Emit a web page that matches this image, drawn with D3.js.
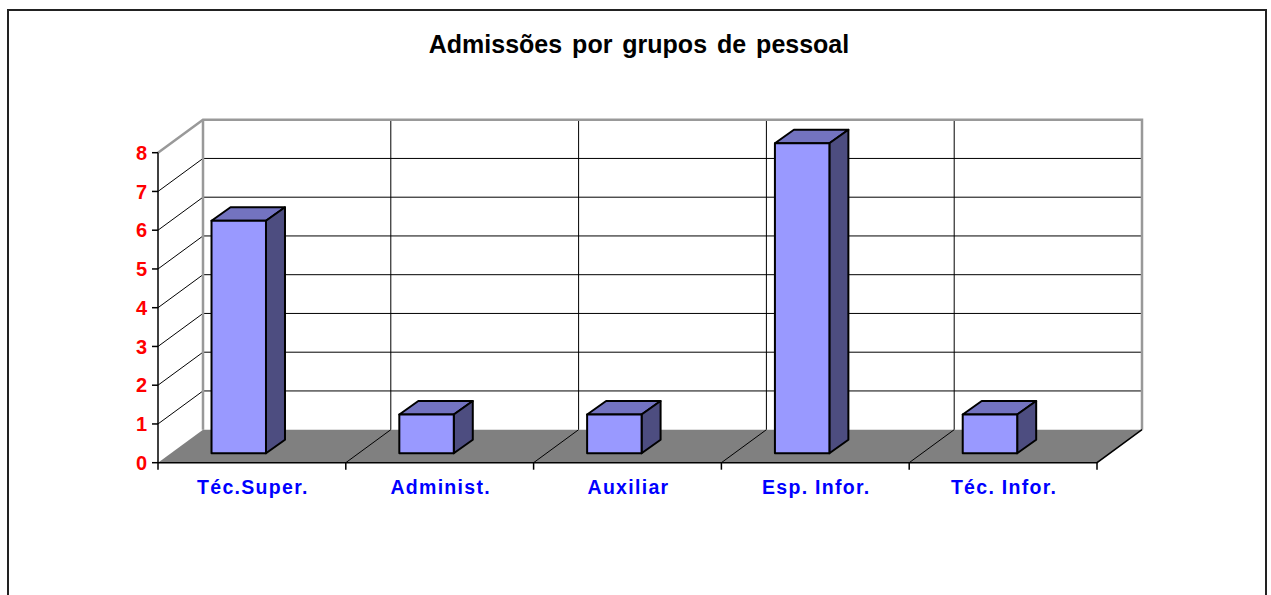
<!DOCTYPE html>
<meta charset="utf-8">
<style>
body{ margin:0; background:white; }
text{ font-family: "Liberation Sans", Arial, sans-serif; font-weight: bold; }
</style>
<div id="chart"></div>
<script src="https://cdn.jsdelivr.net/npm/d3@7"></script>
<script>

var categories = ['Téc.Super.', 'Administ.', 'Auxiliar', 'Esp. Infor.', 'Téc. Infor.']
var values = [6, 1, 1, 8, 1]
var yTicks = [0, 1, 2, 3, 4, 5, 6, 7, 8]
var title = 'Admissões por grupos de pessoal'

var width = 1271,
    height = 595,
    x0 = 158, x1 = 1097,      // front edge of floor
    yFront = 462.7,           // value 0 at front plane
    depthX = 45, depthY = -33, // floor depth offset (front -> back wall)
    unit = 38.75

var svg = d3.select('#chart').append('svg')
    .attr('width', width).attr('height', height)

// outer frame
svg.append('rect')
    .attr('x', 8).attr('y', 10).attr('width', 1258).attr('height', 600)
    .style('fill', 'white').style('stroke', '#222').style('stroke-width', 2)

svg.append('text')
    .attr('x', 639).attr('y', 53)
    .attr('text-anchor', 'middle')
    .style('font-size', '25px')
    .style('word-spacing', '3px')
    .text(title)

var x = d3.scaleBand().domain(categories).range([x0, x1])
var yF = d3.scaleLinear().domain([0, 8]).range([yFront, yFront - 8 * unit])
var yB = function(v){ return yF(v) + depthY }
var bx = function(xx){ return xx + depthX }

var g = svg.append('g')

// back wall horizontal gridlines
g.selectAll('.hgrid').data(yTicks.filter(function(d){ return d > 0 && d < 8 }))
  .enter().append('line')
    .attr('x1', bx(x0)).attr('x2', bx(x1))
    .attr('y1', yB).attr('y2', yB)
    .style('stroke', '#000').style('stroke-width', 1)

// side wall diagonals
g.selectAll('.sgrid').data(yTicks.filter(function(d){ return d > 0 && d < 8 }))
  .enter().append('line')
    .attr('x1', x0).attr('x2', bx(x0))
    .attr('y1', yF).attr('y2', yB)
    .style('stroke', '#000').style('stroke-width', 1)

// back wall vertical gridlines
var bounds = categories.map(function(c){ return x(c) }).concat([x1])
g.selectAll('.vgrid').data(bounds.slice(1, -1))
  .enter().append('line')
    .attr('x1', bx).attr('x2', bx)
    .attr('y1', yB(8)).attr('y2', yB(0))
    .style('stroke', '#000').style('stroke-width', 1)

// wall edges (gray)
g.append('path')
    .attr('d', d3.line()([[x0, yF(8)], [bx(x0), yB(8)], [bx(x1), yB(8)], [bx(x1), yB(0)]]))
    .style('fill', 'none').style('stroke', '#999').style('stroke-width', 2.5)
g.append('line')
    .attr('x1', bx(x0)).attr('x2', bx(x0)).attr('y1', yB(8)).attr('y2', yB(0))
    .style('stroke', '#999').style('stroke-width', 2.5)

// floor
g.append('path')
    .attr('d', d3.line()([[x0, yF(0)], [bx(x0), yB(0)], [bx(x1), yB(0)], [x1, yF(0)]]) + 'Z')
    .style('fill', '#808080').style('stroke', 'none')
g.append('path')
    .attr('d', d3.line()([[x0, yF(0)], [x1, yF(0)], [bx(x1), yB(0)]]))
    .style('fill', 'none').style('stroke', '#000').style('stroke-width', 1.5)
g.selectAll('.fgrid').data(bounds.slice(1, -1))
  .enter().append('line')
    .attr('x1', function(d){ return d }).attr('x2', bx)
    .attr('y1', yF(0)).attr('y2', yB(0))
    .style('stroke', '#000').style('stroke-width', 1)

// x ticks
g.selectAll('.xtick').data(bounds)
  .enter().append('line')
    .attr('x1', function(d){ return d }).attr('x2', function(d){ return d })
    .attr('y1', yF(0)).attr('y2', yF(0) + 7)
    .style('stroke', '#000').style('stroke-width', 1.5)

// y axis
g.append('line')
    .attr('x1', x0).attr('x2', x0).attr('y1', yF(8)).attr('y2', yF(0))
    .style('stroke', '#000').style('stroke-width', 1.5)
g.selectAll('.ytick').data(yTicks)
  .enter().append('line')
    .attr('x1', x0 - 6).attr('x2', x0)
    .attr('y1', yF).attr('y2', yF)
    .style('stroke', '#000').style('stroke-width', 1.5)
g.selectAll('.ylab').data(yTicks)
  .enter().append('text')
    .attr('x', 147).attr('y', yF).attr('dy', '0.36em')
    .attr('text-anchor', 'end')
    .style('font-size', '20px').style('fill', '#ff0000')
    .text(function(d){ return d })

// bars
var bw = x.bandwidth() * 0.29,
    bOff = x.bandwidth() * 0.285,
    bBase = 453.3,
    dx = 19, dy = -13.5
var yBar = function(v){ return bBase - v * (yF(0) - yF(1)) }

var bars = g.selectAll('.bar').data(values).enter().append('g')
bars.each(function(v, i){
  var sel = d3.select(this),
      l = x(categories[i]) + bOff, r = l + bw,
      t = yBar(v), b = yBar(0)
  sel.append('path')
      .attr('d', d3.line()([[l, t], [l + dx, t + dy], [r + dx, t + dy], [r, t]]) + 'Z')
      .style('fill', '#7373c0')
  sel.append('path')
      .attr('d', d3.line()([[r, t], [r + dx, t + dy], [r + dx, b + dy], [r, b]]) + 'Z')
      .style('fill', '#4d4d80')
  sel.append('rect')
      .attr('x', l).attr('y', t).attr('width', bw).attr('height', b - t)
      .style('fill', '#9999ff')
  sel.selectAll('path, rect')
      .style('stroke', '#000').style('stroke-width', 2).style('stroke-linejoin', 'round')
})

// category labels
g.selectAll('.xlab').data(categories)
  .enter().append('text')
    .attr('x', function(d){ return x(d) + x.bandwidth() / 2 + 1 })
    .attr('y', 494)
    .attr('text-anchor', 'middle')
    .style('font-size', '19.5px').style('fill', '#0000ff')
    .style('letter-spacing', '1.3px')
    .text(function(d){ return d })

</script>
